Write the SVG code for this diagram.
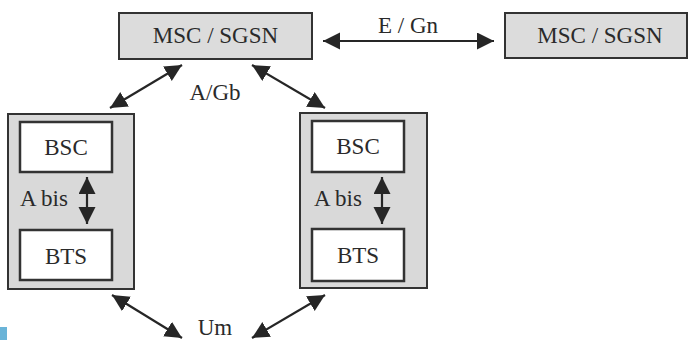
<svg xmlns="http://www.w3.org/2000/svg" width="689" height="340" viewBox="0 0 689 340" font-family="'Liberation Serif', 'Times New Roman', Times, serif">
<style>
text{font-family:'Liberation Serif','Times New Roman',Times,serif;font-size:23px;fill:#2a2a2a}
.c{text-anchor:middle}
.msc{fill:#dcdcdc;stroke:#333;stroke-width:2}
.outer{fill:#d9d9d9;stroke:#333;stroke-width:2}
.inner{fill:#fff;stroke:#333;stroke-width:2.5}
.conn{stroke:#262626;stroke-width:2.2;fill:none;marker-start:url(#ah);marker-end:url(#ah)}
</style>
<defs>
<marker id="ah" markerUnits="userSpaceOnUse" markerWidth="18" markerHeight="18" viewBox="0 0 18 18" refX="17" refY="8.5" orient="auto-start-reverse">
<path d="M0,0 L17,8.5 L0,17 z" fill="#262626"/>
</marker>
</defs>
<rect x="0" y="327" width="7" height="13" fill="#6ab4d8"/>
<g id="msc1"><rect class="msc" x="119" y="13" width="193" height="46"/><text class="c" x="215.5" y="43">MSC / SGSN</text></g>
<g id="msc2"><rect class="msc" x="505" y="13" width="182" height="45"/><text class="c" x="600" y="43">MSC / SGSN</text></g>
<g id="bss1">
<rect class="outer" x="8" y="114" width="126" height="175"/>
<g id="bsc1"><rect class="inner" x="20" y="122" width="92" height="50"/><text class="c" x="66" y="155">BSC</text></g>
<g id="bts1"><rect class="inner" x="20" y="230" width="92" height="50"/><text class="c" x="66" y="264">BTS</text></g>
</g>
<g id="bss2">
<rect class="outer" x="300" y="113" width="127" height="175"/>
<g id="bsc2"><rect class="inner" x="312" y="121" width="92" height="51"/><text class="c" x="358" y="154">BSC</text></g>
<g id="bts2"><rect class="inner" x="312" y="229" width="92" height="52"/><text class="c" x="358" y="263">BTS</text></g>
</g>
<g id="connectors">
<line class="conn" x1="323" y1="41" x2="494" y2="41"/>
<line class="conn" x1="182" y1="65" x2="110" y2="108"/>
<line class="conn" x1="252" y1="65" x2="325" y2="108"/>
<line class="conn" x1="87" y1="177" x2="87" y2="224"/>
<line class="conn" x1="382" y1="177" x2="382" y2="224"/>
<line class="conn" x1="112" y1="295" x2="182" y2="338"/>
<line class="conn" x1="325" y1="295" x2="252" y2="338"/>
</g>
<g id="labels">
<text class="c" x="408" y="33">E / Gn</text>
<text class="c" x="215" y="100">A/Gb</text>
<text x="20" y="206">A bis</text>
<text x="314" y="206">A bis</text>
<text class="c" x="215" y="335">Um</text>
</g>
</svg>
